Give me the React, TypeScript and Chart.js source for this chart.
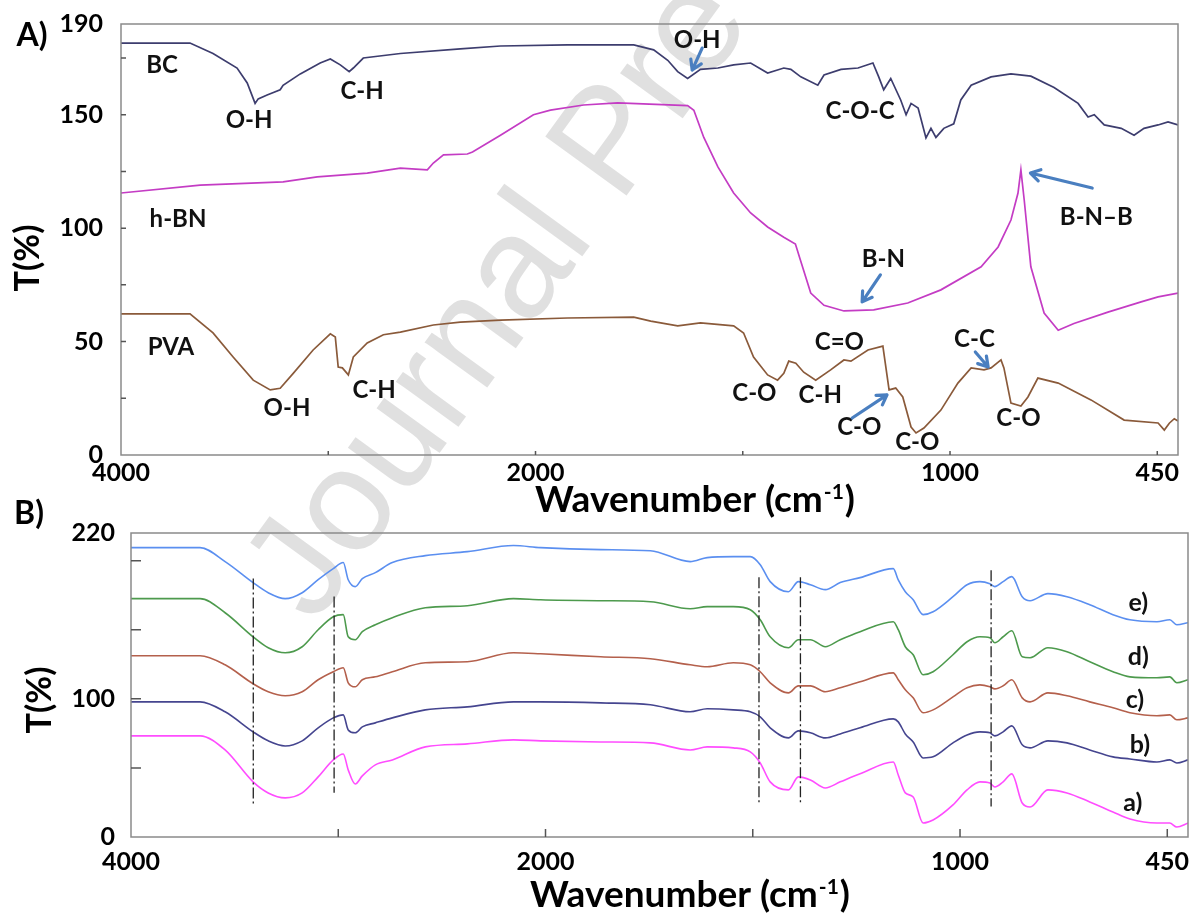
import React, { useEffect, useRef } from "react";
import { Chart, registerables } from "chart.js";

Chart.register(...registerables);

const FONT = "Lato, 'Open Sans', sans-serif";

// ---------- x-axis: FTIR scale (2x expansion below 2000 cm-1) ----------
const toAxis = (w: number) => (w >= 2000 ? 4000 - w : 2000 + 2 * (2000 - w));
const X_MAX = 5100;
const X_TICKS = [0, 1000, 2000, 3000, 4000, 5000];
const X_TICK_LABELS = ["4000", "", "2000", "", "1000", "450"];

// ---------- Panel A ----------
const A_Y_TICKS = [0, 25, 50, 75, 100, 125, 150, 175, 190];
const A_Y_LABELS = ["0", "", "50", "", "100", "", "150", "", "190"];

const BC_W = [4000, 3667, 3556, 3440, 3391, 3353, 3338, 3295, 3232, 3218, 3135, 3039, 2990, 2942, 2899, 2879, 2831, 2652, 2363, 2169, 1923, 1763, 1715, 1681, 1657, 1633, 1602, 1560, 1522, 1481, 1440, 1401, 1384, 1360, 1319, 1304, 1263, 1222, 1186, 1172, 1160, 1143, 1119, 1106, 1094, 1077, 1058, 1046, 1034, 1015, 991, 974, 949, 901, 853, 805, 749, 691, 667, 652, 628, 587, 556, 532, 498, 474, 450];
const BC_T = [181.6, 181.6, 177, 170.6, 164, 155, 157, 158.7, 161, 163, 168, 172.8, 174.6, 172, 169, 170.6, 175, 177, 179, 180.3, 180.8, 180.8, 178.6, 174, 169, 166, 170, 170.6, 172, 172.8, 168.4, 170.6, 170, 166.7, 163, 167.5, 170, 170.6, 172.8, 166.7, 161, 166, 156.5, 150, 155, 153, 139.8, 144, 140, 144, 146, 156.5, 163, 166.7, 168, 167, 162, 155, 149, 150, 145.5, 144, 141, 144, 145.5, 146.8, 145.5];

const HBN_W = [4000, 3618, 3218, 3053, 2812, 2652, 2522, 2493, 2444, 2329, 2304, 2169, 2010, 1964, 1884, 1802, 1633, 1618, 1594, 1560, 1522, 1481, 1440, 1401, 1373, 1361, 1336, 1304, 1256, 1184, 1102, 1022, 925, 884, 853, 836, 829, 821, 805, 773, 739, 701, 619, 539, 498, 450];
const HBN_T = [115.5, 119, 120.4, 122.6, 124.3, 126.5, 125.7, 128.7, 132.3, 132.7, 133.6, 141, 150, 152, 154.3, 155.2, 154, 152, 140, 127, 115.5, 106.7, 100.5, 96, 93, 86, 71.4, 66, 63.5, 64, 67, 72.8, 83, 91.7, 103.6, 115.5, 125.7, 112.4, 83, 62.6, 55, 58, 63, 67.5, 69.7, 71.4];

const PVA_W = [4000, 3667, 3556, 3459, 3362, 3280, 3232, 3169, 3073, 2990, 2966, 2952, 2932, 2903, 2879, 2812, 2734, 2652, 2493, 2363, 2169, 1923, 1763, 1722, 1657, 1602, 1522, 1498, 1474, 1440, 1416, 1401, 1389, 1372, 1353, 1324, 1288, 1256, 1239, 1198, 1162, 1147, 1131, 1114, 1094, 1082, 1063, 1022, 981, 949, 918, 901, 877, 870, 853, 829, 812, 788, 739, 660, 580, 498, 483, 471, 459, 450];
const PVA_T = [62.2, 62.2, 53.8, 43.2, 33, 28.7, 29.4, 36, 46.3, 53.4, 52, 38.8, 38.4, 35.3, 43.2, 49.4, 53, 54.2, 57.3, 58.6, 59.5, 60.4, 60.8, 59, 56.9, 58.2, 56.9, 53.8, 43.2, 35.3, 33, 36, 41.4, 40.5, 36.5, 33, 37.5, 41.9, 41.4, 46.3, 48, 28.7, 29.5, 25.6, 12.3, 9.7, 11.9, 19.8, 31.7, 38.4, 37.5, 38.4, 41.9, 38.4, 22.9, 21.6, 25.6, 33.9, 31.7, 24.3, 15.4, 14.1, 11, 14, 16, 15];

const ANNOT_A_TEXT = ["BC", "O-H", "C-H", "h-BN", "PVA", "O-H", "C-H", "O-H", "C-O-C", "B-N", "B-N\u2013B", "C=O", "C-O", "C-H", "C-O", "C-O", "C-C", "C-O"];
const ANNOT_A_W = [3802, 3382, 2837, 3725, 3759, 3199, 2779, 1610, 1217, 1161, 647, 1267, 1472, 1313, 1219, 1079, 941, 835];
const ANNOT_A_T = [172, 147.7, 160.5, 104, 47.6, 20.7, 28.7, 183, 151.7, 86.4, 105, 49.8, 27.3, 26.5, 12.3, 5.7, 51.1, 16.3];

const ARROW_FROM_W = [1598, 657, 1168, 1236, 939];
const ARROW_FROM_T = [179.4, 117.7, 79.4, 16.3, 45.4];
const ARROW_TO_W = [1622, 806, 1212, 1152, 908];
const ARROW_TO_T = [169.7, 124.3, 67.5, 26.5, 38.8];

// ---------- Panel B ----------
const B_Y_TICKS = [0, 50, 100, 150, 200, 220];
const B_Y_LABELS = ["0", "", "100", "", "", "220"];

const B_W = [4000, 3667, 3546, 3411, 3338, 3256, 3174, 3097, 3024, 2976, 2952, 2918, 2884, 2821, 2739, 2580, 2377, 2155, 2024, 1867, 1747, 1651, 1610, 1547, 1506, 1482, 1458, 1414, 1390, 1361, 1325, 1289, 1241, 1161, 1149, 1132, 1113, 1089, 1065, 1017, 983, 952, 928, 916, 896, 875, 850, 831, 788, 742, 687, 631, 590, 525, 494, 477, 450];
const E_T = [209.4, 209.4, 199.3, 184.1, 176.8, 172.5, 176.8, 186.2, 194.2, 198.6, 186.2, 181.2, 187, 191.3, 198.6, 203.6, 206.5, 210.9, 209.4, 208, 207.2, 199.3, 202.2, 202.9, 202.9, 197.1, 184.8, 177.5, 184.8, 182.6, 179, 184.1, 187.7, 194.2, 186, 177.5, 171.7, 160.9, 163, 173.9, 182.6, 184.8, 183.3, 181.2, 184.8, 188.4, 173.9, 171, 176.1, 173.9, 168.1, 160.9, 157.2, 155.8, 157.2, 153.6, 155.1];
const D_T = [172.5, 172.5, 162.3, 144.9, 137, 133.3, 137.7, 150, 159.4, 160.9, 144.9, 142.8, 148.6, 153.6, 158.7, 165.9, 167.4, 172.5, 171.7, 171, 170.3, 165.2, 166.7, 166.7, 164.5, 157.2, 144.9, 137, 142.8, 142.8, 137.7, 142.8, 148.6, 155.8, 150, 137.7, 131.9, 117.4, 119.6, 131.9, 141.3, 144.9, 144.2, 140.6, 144.9, 149.3, 130.4, 129.7, 137, 134.1, 126.8, 119.6, 115.9, 115.2, 115.9, 111.6, 113.8];
const C_T = [131.2, 131.2, 124.6, 110.9, 105.1, 102.2, 105.1, 113.8, 119.6, 122.5, 111.6, 108.7, 113.8, 115.9, 119.6, 126.1, 126.8, 133.3, 132.6, 130.4, 129, 124.6, 123.2, 126.1, 124.6, 119.6, 111.6, 104.3, 109.4, 109.4, 105.1, 108, 112.3, 118.8, 113.8, 106.5, 100.7, 89.9, 92, 101.4, 108, 110.1, 108.7, 107.2, 109.4, 113.8, 100.7, 97.8, 104.3, 102.2, 97.8, 93.5, 89.9, 87.7, 88.4, 84.8, 86.2];
const BB_T = [97.8, 97.8, 90.6, 76.1, 69.6, 65.9, 69.6, 79, 86.2, 88.4, 77.5, 75.4, 79.7, 82.6, 86.2, 92, 94.2, 97.8, 97.8, 97.1, 95.7, 90.6, 92.8, 92, 90.6, 87, 79, 71.7, 76.8, 75.4, 71.7, 74.6, 79, 85.5, 83.3, 74.6, 68.8, 57.2, 58, 68.1, 73.9, 76.1, 75.4, 73.2, 76.1, 80.4, 66.7, 64.5, 69.6, 68.1, 63, 58, 56.5, 54.3, 55.8, 53.6, 55.8];
const A_T = [73.2, 73.2, 63, 39.9, 31.9, 28.3, 31.9, 43.5, 55.8, 60.1, 48.6, 38.4, 44.2, 52.2, 55.8, 65.2, 67.4, 70.3, 69.6, 68.8, 68.1, 63, 65.2, 64.5, 61.6, 53.6, 39.9, 34.1, 43.5, 41.3, 35.5, 39.9, 45.7, 54.3, 44.9, 31.9, 29, 10.1, 12.3, 23.2, 34.1, 39.9, 39.1, 36.2, 39.9, 45.7, 24.6, 21.7, 34.1, 31.9, 25.4, 18.1, 13, 10.1, 10.1, 7.2, 10.1];

const B_SERIES = [E_T, D_T, C_T, BB_T, A_T];
const B_COLORS = ["#5b8ff0", "#4d9a4d", "#b4604c", "#45458f", "#ff4dff"];
const B_LABELS = ["e)", "d)", "c)", "b)", "a)"];
const B_LABEL_W = [570, 570, 578, 566, 583];
const B_LABEL_T = [169.3, 130.3, 99.1, 66.6, 24.6];

const DASH_W = [3410, 3020, 1485, 1385, 925];
const DASH_TOP = [187, 174, 188, 188, 193];
const DASH_BOTTOM = [23, 32, 25, 25, 22];

// ---------- drawing helpers ----------
function drawArrow(ctx: CanvasRenderingContext2D, x1: number, y1: number, x2: number, y2: number) {
  const ang = Math.atan2(y2 - y1, x2 - x1);
  const hl = 11;
  ctx.beginPath();
  ctx.moveTo(x1, y1);
  ctx.lineTo(x2, y2);
  ctx.moveTo(x2 - hl * Math.cos(ang - 0.55), y2 - hl * Math.sin(ang - 0.55));
  ctx.lineTo(x2, y2);
  ctx.lineTo(x2 - hl * Math.cos(ang + 0.55), y2 - hl * Math.sin(ang + 0.55));
  ctx.stroke();
}

const framePlugin = {
  id: "frame",
  afterDraw(chart: any, _args: any, opts: any) {
    const { ctx, chartArea: a, scales } = chart;
    const xs = scales.x;
    const ys = scales.y;
    ctx.save();
    // frame
    ctx.strokeStyle = "#8a8a8a";
    ctx.lineWidth = 1.5;
    ctx.strokeRect(a.left, a.top, a.right - a.left, a.bottom - a.top);
    // inner tick marks
    ctx.strokeStyle = "#555";
    ctx.lineWidth = 1.5;
    ctx.beginPath();
    for (const t of ys.ticks) {
      if (t.value <= ys.min || t.value >= ys.max) continue;
      const y = ys.getPixelForValue(t.value);
      ctx.moveTo(a.left, y);
      ctx.lineTo(a.left + opts.yTickLen, y);
    }
    for (const t of xs.ticks) {
      if (t.value <= xs.min || t.value >= xs.max) continue;
      const x = xs.getPixelForValue(t.value);
      ctx.moveTo(x, a.bottom);
      ctx.lineTo(x, a.bottom - opts.xTickLen);
    }
    ctx.stroke();

    // annotation labels
    ctx.fillStyle = "#111";
    ctx.textAlign = "center";
    ctx.textBaseline = "middle";
    ctx.font = `bold ${opts.labelSize}px ${FONT}`;
    (opts.labels || []).forEach((txt: string, i: number) => {
      ctx.fillText(txt, xs.getPixelForValue(toAxis(opts.labelW[i])), ys.getPixelForValue(opts.labelT[i]));
    });

    // arrows
    if (opts.arrowFromW) {
      ctx.strokeStyle = "#4a7fc0";
      ctx.lineWidth = 3.2;
      ctx.lineCap = "round";
      ctx.lineJoin = "round";
      opts.arrowFromW.forEach((w: number, i: number) => {
        drawArrow(
          ctx,
          xs.getPixelForValue(toAxis(w)),
          ys.getPixelForValue(opts.arrowFromT[i]),
          xs.getPixelForValue(toAxis(opts.arrowToW[i])),
          ys.getPixelForValue(opts.arrowToT[i])
        );
      });
    }

    // panel letter
    ctx.fillStyle = "#000";
    ctx.font = `bold 32px ${FONT}`;
    ctx.textAlign = "center";
    ctx.textBaseline = "middle";
    ctx.fillText(opts.panel, opts.panelX, opts.panelY);

    // y title
    ctx.save();
    ctx.translate(opts.yTitleX, opts.yTitleY);
    ctx.rotate(-Math.PI / 2);
    ctx.font = `bold 34px ${FONT}`;
    ctx.fillText("T(%)", 0, 0);
    ctx.restore();

    // x title with superscript
    const main = "Wavenumber (cm";
    const sup = "-1";
    const close = ")";
    const supSize = Math.round(opts.xTitleSize * 0.58);
    ctx.textAlign = "left";
    ctx.textBaseline = "alphabetic";
    ctx.font = `bold ${opts.xTitleSize}px ${FONT}`;
    const wMain = ctx.measureText(main).width;
    const wClose = ctx.measureText(close).width;
    ctx.font = `bold ${supSize}px ${FONT}`;
    const wSup = ctx.measureText(sup).width;
    const x0 = opts.xTitleX - (wMain + wSup + wClose + 2) / 2;
    ctx.font = `bold ${opts.xTitleSize}px ${FONT}`;
    ctx.fillText(main, x0, opts.xTitleY);
    ctx.font = `bold ${supSize}px ${FONT}`;
    ctx.fillText(sup, x0 + wMain + 1, opts.xTitleY - opts.xTitleSize * 0.36);
    ctx.font = `bold ${opts.xTitleSize}px ${FONT}`;
    ctx.fillText(close, x0 + wMain + wSup + 2, opts.xTitleY);
    ctx.restore();
  },
};

const tickFont = { family: FONT, size: 25, weight: "bold" as const };

function makeScales(yMax: number, yTicks: number[], yLabels: string[], yWidth: number, xHeight: number, yPad: number, xPad: number) {
  return {
    x: {
      type: "linear" as const,
      min: 0,
      max: X_MAX,
      afterBuildTicks: (s: any) => {
        s.ticks = X_TICKS.map((v) => ({ value: v }));
      },
      afterFit: (s: any) => {
        s.height = xHeight;
        s.paddingLeft = 0;
        s.paddingRight = 0;
      },
      grid: { display: false, drawTicks: false },
      border: { display: false },
      ticks: {
        autoSkip: false,
        maxRotation: 0,
        minRotation: 0,
        padding: xPad,
        color: "#000",
        font: tickFont,
        callback: (_v: any, i: number) => X_TICK_LABELS[i] ?? "",
      },
    },
    y: {
      type: "linear" as const,
      min: 0,
      max: yMax,
      afterBuildTicks: (s: any) => {
        s.ticks = yTicks.map((v) => ({ value: v }));
      },
      afterFit: (s: any) => {
        s.width = yWidth;
        s.paddingTop = 0;
        s.paddingBottom = 0;
      },
      grid: { display: false, drawTicks: false },
      border: { display: false },
      ticks: {
        autoSkip: false,
        padding: yPad,
        color: "#000",
        font: tickFont,
        callback: (_v: any, i: number) => yLabels[i] ?? "",
      },
    },
  };
}

const series = (ws: number[], ts: number[]) => ws.map((w, i) => ({ x: toAxis(w), y: ts[i] }));

function PanelA() {
  const ref = useRef<HTMLCanvasElement>(null);
  useEffect(() => {
    const chart = new Chart(ref.current!, {
      type: "line",
      data: {
        datasets: [
          { data: series(BC_W, BC_T), borderColor: "#3d3d6e" },
          { data: series(HBN_W, HBN_T), borderColor: "#c43cc4" },
          { data: series(PVA_W, PVA_T), borderColor: "#8a5a3a" },
        ],
      },
      options: {
        animation: false,
        responsive: false,
        devicePixelRatio: 1,
        layout: { padding: { top: 24, right: 11, left: 0, bottom: 0 } },
        elements: { point: { radius: 0 }, line: { borderWidth: 1.7, tension: 0 } },
        plugins: {
          legend: { display: false },
          tooltip: { enabled: false },
          frame: {
            yTickLen: 5,
            xTickLen: 4,
            labelSize: 24,
            labels: ANNOT_A_TEXT,
            labelW: ANNOT_A_W,
            labelT: ANNOT_A_T,
            arrowFromW: ARROW_FROM_W,
            arrowFromT: ARROW_FROM_T,
            arrowToW: ARROW_TO_W,
            arrowToT: ARROW_TO_T,
            panel: "A)",
            panelX: 32,
            panelY: 36,
            yTitleX: 28,
            yTitleY: 258,
            xTitleX: 695,
            xTitleY: 512,
            xTitleSize: 37,
          },
        } as any,
        scales: makeScales(190, A_Y_TICKS, A_Y_LABELS, 121, 75, 18, 3) as any,
      },
      plugins: [framePlugin],
    });
    return () => chart.destroy();
  }, []);
  return <canvas ref={ref} width={1189} height={530} style={{ position: "absolute", left: 0, top: 0, width: 1189, height: 530, zIndex: 1 }} />;
}

function PanelB() {
  const ref = useRef<HTMLCanvasElement>(null);
  useEffect(() => {
    const curves = B_SERIES.map((ts, i) => ({
      data: series(B_W, ts),
      borderColor: B_COLORS[i],
      borderWidth: 1.6,
      cubicInterpolationMode: "monotone" as const,
    }));
    const dashes = DASH_W.map((w, i) => ({
      data: [
        { x: toAxis(w), y: DASH_TOP[i] },
        { x: toAxis(w), y: DASH_BOTTOM[i] },
      ],
      borderColor: "#222",
      borderWidth: 1.3,
      borderDash: [11, 3, 2, 3],
    }));
    const chart = new Chart(ref.current!, {
      type: "line",
      data: { datasets: [...dashes, ...curves] as any },
      options: {
        animation: false,
        responsive: false,
        devicePixelRatio: 1,
        layout: { padding: { top: 43, right: 1, left: 0, bottom: 0 } },
        elements: { point: { radius: 0 }, line: { borderWidth: 1.6, tension: 0 } },
        plugins: {
          legend: { display: false },
          tooltip: { enabled: false },
          frame: {
            yTickLen: 10,
            xTickLen: 8,
            labelSize: 25,
            labels: B_LABELS,
            labelW: B_LABEL_W,
            labelT: B_LABEL_T,
            panel: "B)",
            panelX: 29,
            panelY: 24,
            yTitleX: 40,
            yTitleY: 210,
            xTitleX: 690,
            xTitleY: 417,
            xTitleSize: 37,
          },
        } as any,
        scales: makeScales(220, B_Y_TICKS, B_Y_LABELS, 131, 78, 16, 10) as any,
      },
      plugins: [framePlugin],
    });
    return () => chart.destroy();
  }, []);
  return <canvas ref={ref} width={1189} height={425} style={{ position: "absolute", left: 0, top: 490, width: 1189, height: 425, zIndex: 2 }} />;
}

export default function App() {
  return (
    <div style={{ position: "absolute", left: 0, top: 0, width: 1189, height: 915, background: "#fff", overflow: "hidden" }}>
      <div
        style={{
          position: "absolute",
          left: 315,
          top: 626,
          width: 0,
          height: 0,
          transform: "rotate(-54deg)",
          transformOrigin: "0 0",
          zIndex: 0,
        }}
      >
        <span
          style={{
            position: "absolute",
            left: 0,
            top: -124,
            fontFamily: "'Liberation Sans', Arial, sans-serif",
            fontSize: 146,
            lineHeight: "146px",
            color: "#e0e0e0",
            whiteSpace: "nowrap",
          }}
        >
          Journal Pre-proof
        </span>
      </div>
      <PanelA />
      <PanelB />
    </div>
  );
}
